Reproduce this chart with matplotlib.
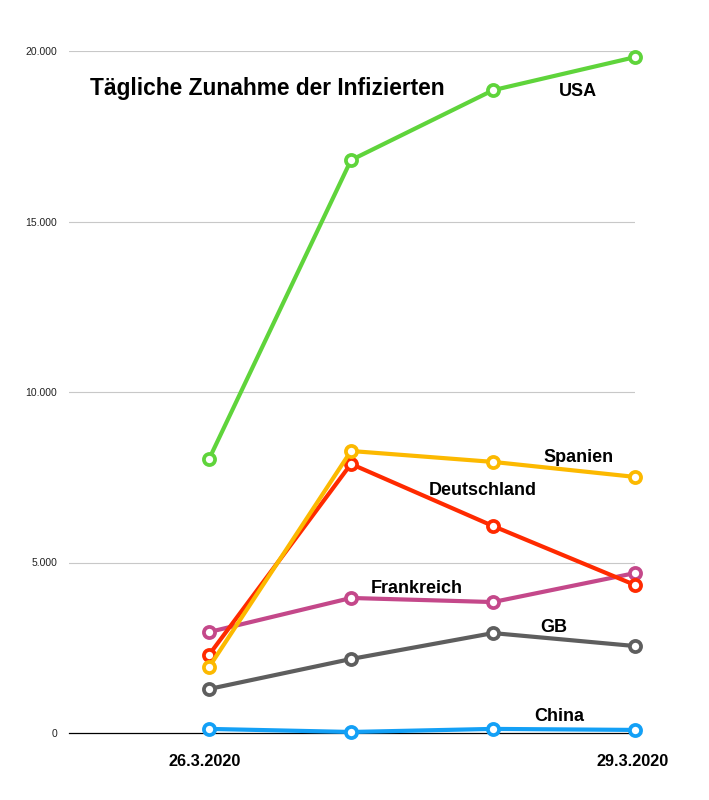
import matplotlib
matplotlib.use('Agg')
import matplotlib.pyplot as plt

plt.rcParams['font.family'] = ['Liberation Sans', 'DejaVu Sans']

############################# Data #############################

days = ['26.3.2020', '27.3.2020', '28.3.2020', '29.3.2020']
usa = [8030, 16800, 18850, 19820]
spanien = [1930, 8270, 7950, 7510]
deutschland = [2290, 7890, 6070, 4340]
frankreich = [2960, 3960, 3840, 4690]
gb = [1290, 2170, 2930, 2550]
china = [120, 30, 120, 90]

yticks = [0, 5000, 10000, 15000, 20000]
ylabels = ['0', '5.000', '10.000', '15.000', '20.000']

# drawing order: later ones on top
series = [
    ('USA', usa, '#5fd43b', (2.60, 18800)),
    ('GB', gb, '#5e5e5e', (2.43, 3080)),
    ('Frankreich', frankreich, '#c4488a', (1.46, 4250)),
    ('Deutschland', deutschland, '#ff2a00', (1.93, 7100)),
    ('Spanien', spanien, '#fcb900', (2.60, 8065)),
    ('China', china, '#13a0f6', (2.47, 470)),
]

############################# Plot #############################

fig = plt.figure(figsize=(7.09, 8.0), dpi=100)
ax = fig.add_axes([69/709, 67/800, (635-69)/709, (733-51)/800])

x = list(range(len(days)))
for name, vals, col, pos in series:
    ax.plot(x, vals, color=col, lw=3, marker='o', ms=8, mfc='white',
            mec=col, mew=2.7, clip_on=False, zorder=3)
    ax.text(pos[0], pos[1], name, ha='center', va='center',
            fontsize=13, fontweight='bold', color='black', zorder=5)

ax.set_xlim(-0.986, 3.0)
ax.set_ylim(0, 20000)

for t in yticks[1:]:
    ax.axhline(t, color='#c8c8c8', lw=0.8, zorder=1)
ax.axhline(0, color='black', lw=0.9, zorder=2, xmax=1.01, clip_on=False)

ax.set_yticks(yticks)
ax.set_yticklabels(ylabels, fontsize=7.5, color='#222222')
ax.set_xticks([-0.03, 2.98])
ax.set_xticklabels([days[0], days[-1]], fontsize=11.7, fontweight='bold')
ax.tick_params(axis='y', length=0, pad=8.5)
ax.tick_params(axis='x', length=0, pad=15)

for s in ax.spines.values():
    s.set_visible(False)

fig.text(90/709, 1 - 88/800, 'Tägliche Zunahme der Infizierten',
         ha='left', va='center', fontsize=16.4, fontweight='bold')

plt.savefig('out.png', dpi=100)
plt.close()
